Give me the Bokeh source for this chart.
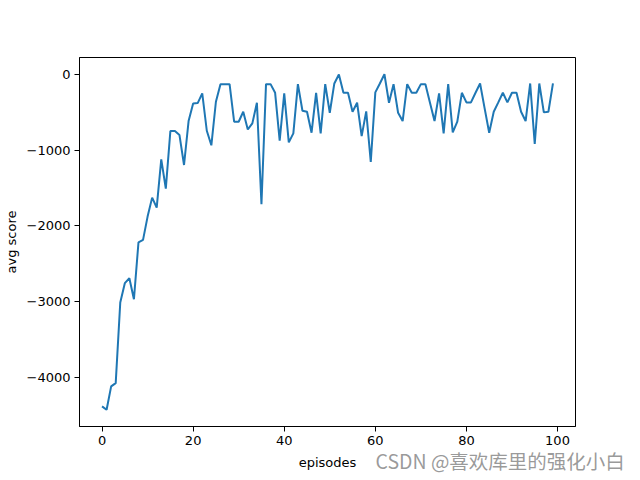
from bokeh.plotting import figure
from bokeh.models import Range1d, FixedTicker, Label
from bokeh.embed import file_html
from bokeh.resources import INLINE

episodes = list(range(100))
avg_score = [
    -4377, -4421, -4114, -4070, -3009, -2754, -2689, -2965, -2215, -2184,
    -1877, -1627, -1759, -1123, -1509, -750, -750, -803, -1197, -618,
    -386, -382, -254, -746, -938, -364, -132, -132, -132, -627,
    -627, -496, -728, -649, -377, -1715, -132, -132, -246, -877,
    -254, -899, -781, -132, -482, -496, -772, -246, -781, -132,
    -509, -123, -5, -246, -246, -496, -377, -816, -491, -1158,
    -241, -123, -2, -377, -132, -509, -618, -132, -246, -246,
    -132, -132, -377, -618, -254, -781, -132, -768, -627, -246,
    -373, -373, -246, -123, -452, -772, -496, -373, -246, -373,
    -246, -246, -496, -618, -123, -921, -123, -504, -496, -123,
]
x_ticks = [0, 20, 40, 60, 80, 100]
y_ticks = [0, -1000, -2000, -3000, -4000]
y_tick_labels = {v: str(v).replace("-", "\u2212") for v in y_ticks}

xmin, xmax = min(episodes), max(episodes)
ymin, ymax = min(avg_score), max(avg_score)
xpad = (xmax - xmin) * 0.05
ypad = (ymax - ymin) * 0.05

p = figure(
    output_backend="svg", toolbar_location=None,
    frame_width=496, frame_height=369,
    min_border_left=72, min_border_top=57, min_border_right=56, min_border_bottom=38,
    x_range=Range1d(xmin - xpad, xmax + xpad),
    y_range=Range1d(ymin - ypad, ymax + ypad),
    background_fill_color="white", border_fill_color="white",
)
p.line(episodes, avg_score, line_color="#1f77b4", line_width=2)

p.grid.visible = False
p.outline_line_color = "black"
p.outline_line_width = 1
p.outline_line_alpha = 1

for ax in (p.xaxis[0], p.yaxis[0]):
    ax.major_tick_in = 0
    ax.major_tick_out = 5
    ax.minor_tick_line_color = None
    ax.axis_line_color = "black"
    ax.major_tick_line_color = "black"
    ax.major_label_text_font = "DejaVu Sans"
    ax.major_label_text_font_size = "13px"
    ax.major_label_text_color = "black"
    ax.axis_label_text_font = "DejaVu Sans"
    ax.axis_label_text_font_size = "13px"
    ax.axis_label_text_font_style = "normal"
    ax.axis_label_text_color = "black"
    ax.major_label_standoff = 4

p.xaxis.ticker = FixedTicker(ticks=x_ticks)
p.yaxis.ticker = FixedTicker(ticks=y_ticks)
p.yaxis.major_label_overrides = y_tick_labels
p.xaxis.axis_label = "episodes"
p.yaxis.axis_label = "avg score"
p.xaxis.axis_label_standoff = 7
p.yaxis.axis_label_standoff = 5

wm = Label(
    x=296, y=27, x_units="screen", y_units="screen",
    text="CSDN @喜欢库里的强化小白",
    text_font="Noto Sans CJK SC", text_font_size="19.5px",
    text_color="#888888", text_alpha=0.85,
)
p.add_layout(wm, "below")

open("out.html", "w").write(file_html(p, INLINE))
